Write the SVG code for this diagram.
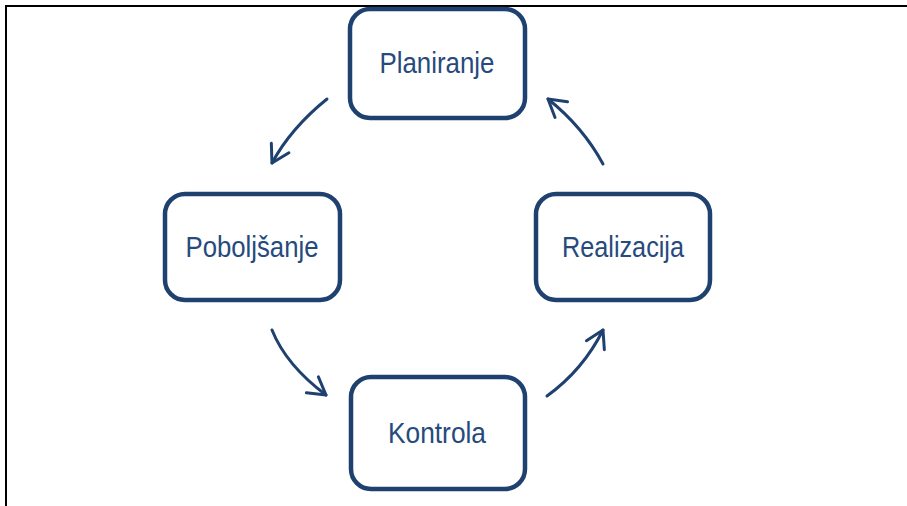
<svg xmlns="http://www.w3.org/2000/svg" width="907" height="506" viewBox="0 0 907 506">
  <style>
    .box { fill: #ffffff; stroke: #1f4170; stroke-width: 4.5; }
    .lbl { font-family: "Liberation Sans", Arial, sans-serif; font-size: 29.5px; fill: #264a7c; text-anchor: middle; }
    .conn { fill: none; stroke: #1f4170; stroke-width: 3; stroke-linecap: round; }
    .frame { stroke: #000000; stroke-width: 2; fill: none; }
  </style>
  <defs>
    <marker id="arrow" markerUnits="userSpaceOnUse" markerWidth="24" markerHeight="24" viewBox="-20 -12 24 24" refX="0" refY="0" orient="auto">
      <path d="M -17 -10 L 0 0 L -17 10" fill="none" stroke="#1f4170" stroke-width="3" stroke-linecap="round" stroke-linejoin="round"/>
    </marker>
  </defs>
  <rect x="0" y="0" width="907" height="506" fill="#ffffff"/>
  <g id="frame">
    <line class="frame" x1="5" y1="6" x2="907" y2="6"/>
    <line class="frame" x1="6" y1="5" x2="6" y2="506"/>
  </g>
  <g id="connectors">
    <path class="conn" d="M 327 99 Q 291 128 272 163" marker-end="url(#arrow)"/>
    <path class="conn" d="M 272 330 Q 286 365 326 395" marker-end="url(#arrow)"/>
    <path class="conn" d="M 547 396 Q 583 370 603 330" marker-end="url(#arrow)"/>
    <path class="conn" d="M 603 164 Q 583 127 548 99" marker-end="url(#arrow)"/>
  </g>
  <g id="planiranje">
    <rect class="box" x="350" y="9" width="175" height="109" rx="20"/>
    <text class="lbl" x="437" y="73" textLength="115" lengthAdjust="spacingAndGlyphs">Planiranje</text>
  </g>
  <g id="poboljsanje">
    <rect class="box" x="165" y="194" width="175" height="106" rx="20"/>
    <text class="lbl" x="252" y="257" textLength="133" lengthAdjust="spacingAndGlyphs">Poboljšanje</text>
  </g>
  <g id="realizacija">
    <rect class="box" x="536" y="194" width="174" height="106" rx="20"/>
    <text class="lbl" x="623" y="257" textLength="122" lengthAdjust="spacingAndGlyphs">Realizacija</text>
  </g>
  <g id="kontrola">
    <rect class="box" x="351" y="377" width="174" height="112" rx="20"/>
    <text class="lbl" x="437" y="443" textLength="98" lengthAdjust="spacingAndGlyphs">Kontrola</text>
  </g>
</svg>
